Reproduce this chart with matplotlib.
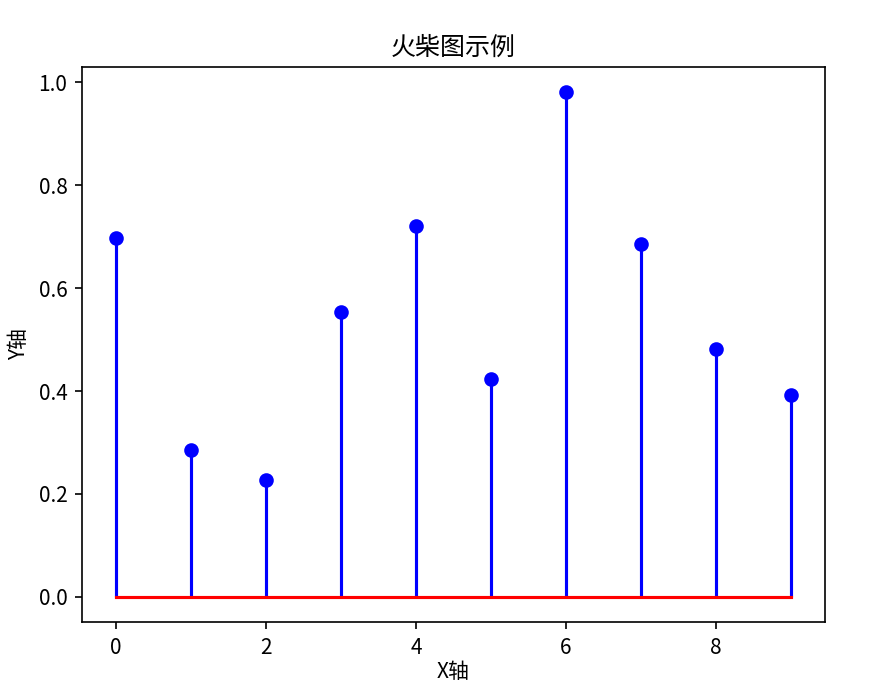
import matplotlib
matplotlib.use("Agg")
import matplotlib.pyplot as plt
import numpy as np

plt.rcParams['font.family'] = ['Noto Sans CJK SC', 'DejaVu Sans']
plt.rcParams['axes.unicode_minus'] = False

# stem values
x = np.arange(10)
y = [0.697, 0.286, 0.228, 0.553, 0.721, 0.424, 0.981, 0.685, 0.482, 0.393]

W, H = 882, 683
fig = plt.figure(figsize=(W / 150, H / 150), dpi=150)
ax = fig.add_axes([82 / W, 1 - 622 / H, (825 - 82) / W, (622 - 67) / H])

ax.stem(x, y, linefmt='b-', markerfmt='bo', basefmt='r-')
ax.set_title("火柴图示例")
ax.set_xlabel("X轴", labelpad=1)
ax.set_ylabel("Y轴")

fig.savefig("out.png", dpi=150)
